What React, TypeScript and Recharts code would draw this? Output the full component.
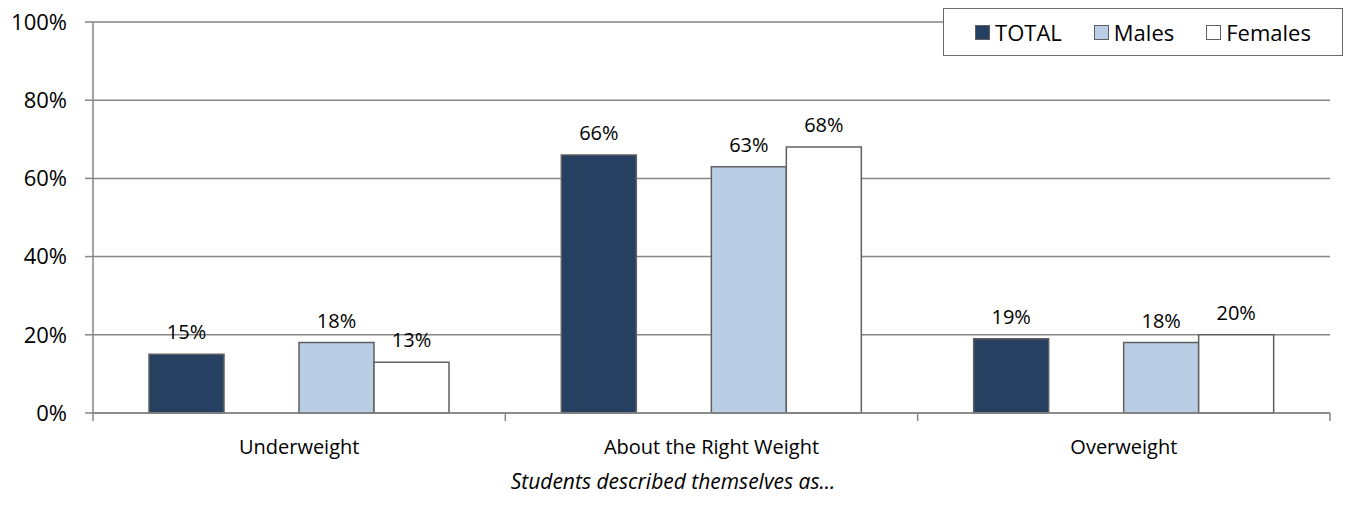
import React from 'react';
import { BarChart, Bar, XAxis, YAxis, CartesianGrid, LabelList, Legend } from 'recharts';

const categories = ['Underweight', 'About the Right Weight', 'Overweight'];
const totalValues = [15, 66, 19];
const maleValues = [18, 63, 18];
const femaleValues = [13, 68, 20];
const yTicks = [0, 20, 40, 60, 80, 100];

const WIDTH = 1346;
const HEIGHT = 505;
const MARGIN = { top: 22, right: 16, left: 0, bottom: 0 };
const Y_AXIS_WIDTH = 93;
const X_AXIS_HEIGHT = 92;
const FONT = '"Open Sans", sans-serif';
const AXIS_GREY = '#868686';
const BAR_STROKE = '#606060';

const SERIES = [
  { key: 'total', name: 'TOTAL', fill: '#264061' },
  { key: 'males', name: 'Males', fill: '#B9CDE5' },
  { key: 'females', name: 'Females', fill: '#FFFFFF' },
];

// "gap" is an empty slot that leaves the space between TOTAL and Males
const data = categories.map((name, i) => ({
  name,
  total: totalValues[i],
  gap: 0,
  males: maleValues[i],
  females: femaleValues[i],
}));

const plotWidth = WIDTH - MARGIN.left - MARGIN.right - Y_AXIS_WIDTH;
const band = plotWidth / categories.length;

const CategoryTick = (props: any) => {
  const { x, y, payload, index } = props;
  const last = index === categories.length - 1;
  return (
    <g>
      <line x1={x - band / 2} x2={x - band / 2} y1={y} y2={y + 8} stroke={AXIS_GREY} strokeWidth={1.5} />
      {last && <line x1={x + band / 2} x2={x + band / 2} y1={y} y2={y + 8} stroke={AXIS_GREY} strokeWidth={1.5} />}
      <text x={x} y={y + 33} textAnchor="middle" dominantBaseline="central" fontSize={20} fontFamily={FONT} fill="#000">
        {payload.value}
      </text>
    </g>
  );
};

const LegendBox = () => (
  <div
    style={{
      position: 'absolute',
      left: 943,
      top: 8,
      width: 400,
      height: 48,
      boxSizing: 'border-box',
      border: '1.5px solid #6a6a6a',
      background: '#fff',
      display: 'flex',
      alignItems: 'center',
      justifyContent: 'center',
      gap: 32,
      fontFamily: FONT,
      fontSize: 22,
      color: '#000',
    }}
  >
    {SERIES.map((s) => (
      <div key={s.key} style={{ display: 'flex', alignItems: 'center', gap: 5 }}>
        <span
          style={{
            width: 15,
            height: 15,
            boxSizing: 'border-box',
            background: s.fill,
            border: `1.5px solid ${BAR_STROKE}`,
            display: 'inline-block',
          }}
        />
        <span>{s.name}</span>
      </div>
    ))}
  </div>
);

const pct = (v: any) => `${v}%`;

export default function App() {
  return (
    <div style={{ position: 'absolute', left: 0, top: 0, width: WIDTH, height: HEIGHT, background: '#fff' }}>
      <BarChart
        width={WIDTH}
        height={HEIGHT}
        data={data}
        margin={MARGIN}
        barCategoryGap={56}
        barGap={0}
      >
        <CartesianGrid vertical={false} stroke={AXIS_GREY} strokeWidth={1.5} />
        <XAxis
          dataKey="name"
          height={X_AXIS_HEIGHT}
          stroke={AXIS_GREY}
          strokeWidth={1.5}
          tickLine={false}
          tickSize={0}
          tickMargin={0}
          interval={0}
          tick={<CategoryTick />}
        />
        <YAxis
          width={Y_AXIS_WIDTH}
          domain={[0, 100]}
          ticks={yTicks}
          tickFormatter={pct}
          stroke={AXIS_GREY}
          strokeWidth={1.5}
          tickSize={8}
          tickMargin={18}
          tick={{ fill: '#000', fontSize: 22, fontFamily: FONT }}
        />
        <Legend content={() => null} />
        <Bar dataKey="total" name="TOTAL" fill={SERIES[0].fill} stroke={BAR_STROKE} strokeWidth={1.5} isAnimationActive={false}>
          <LabelList dataKey="total" position="top" offset={15} formatter={pct} fill="#000" fontSize={20} fontFamily={FONT} />
        </Bar>
        <Bar dataKey="gap" fill="none" stroke="none" legendType="none" isAnimationActive={false} />
        <Bar dataKey="males" name="Males" fill={SERIES[1].fill} stroke={BAR_STROKE} strokeWidth={1.5} isAnimationActive={false}>
          <LabelList dataKey="males" position="top" offset={15} formatter={pct} fill="#000" fontSize={20} fontFamily={FONT} />
        </Bar>
        <Bar dataKey="females" name="Females" fill={SERIES[2].fill} stroke={BAR_STROKE} strokeWidth={1.5} isAnimationActive={false}>
          <LabelList dataKey="females" position="top" offset={15} formatter={pct} fill="#000" fontSize={20} fontFamily={FONT} />
        </Bar>
      </BarChart>
      <LegendBox />
      <div
        style={{
          position: 'absolute',
          left: 0,
          width: WIDTH,
          top: 467,
          textAlign: 'center',
          fontFamily: FONT,
          fontStyle: 'italic',
          fontSize: 21,
          color: '#000',
        }}
      >
        Students described themselves as...
      </div>
    </div>
  );
}
